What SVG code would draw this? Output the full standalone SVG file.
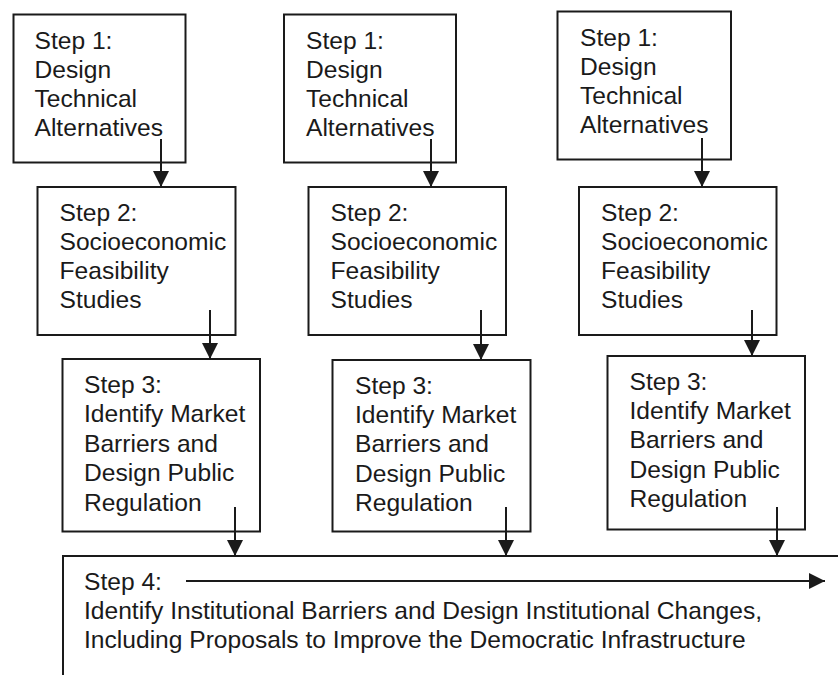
<svg xmlns="http://www.w3.org/2000/svg" width="838" height="675" viewBox="0 0 838 675">
  <style>
    .box { fill: #ffffff; stroke: #1a1a1a; stroke-width: 2; }
    .lbl { font-family: "Liberation Sans", Arial, Helvetica, sans-serif; font-size: 24.6px; fill: #1a1a1a; }
    .conn { stroke: #1a1a1a; stroke-width: 2; fill: none; marker-end: url(#head); }
  </style>
  <defs>
    <marker id="head" viewBox="0 0 16 16" refX="16" refY="8" markerWidth="16" markerHeight="16" markerUnits="userSpaceOnUse" orient="auto">
      <path d="M0,0 L16,8 L0,16 Z" fill="#1a1a1a"/>
    </marker>
  </defs>
  <rect width="838" height="675" fill="#ffffff"/>

  <!-- Column 1 -->
  <g id="c1-step1">
    <rect class="box" x="13.5" y="14.5" width="172" height="148"/>
    <text class="lbl" x="34.5" y="49"><tspan x="34.5">Step 1:</tspan><tspan x="34.5" dy="29">Design</tspan><tspan x="34.5" dy="29">Technical</tspan><tspan x="34.5" dy="29">Alternatives</tspan></text>
  </g>
  <g id="c1-step2">
    <rect class="box" x="37.5" y="187" width="198" height="148"/>
    <text class="lbl" x="59.5" y="221"><tspan x="59.5">Step 2:</tspan><tspan x="59.5" dy="29">Socioeconomic</tspan><tspan x="59.5" dy="29">Feasibility</tspan><tspan x="59.5" dy="29">Studies</tspan></text>
  </g>
  <g id="c1-step3">
    <rect class="box" x="62.5" y="359" width="197.5" height="172.5"/>
    <text class="lbl" x="84" y="393"><tspan x="84">Step 3:</tspan><tspan x="84" dy="29.4">Identify Market</tspan><tspan x="84" dy="29.4">Barriers and</tspan><tspan x="84" dy="29.4">Design Public</tspan><tspan x="84" dy="29.4">Regulation</tspan></text>
  </g>

  <!-- Column 2 -->
  <g id="c2-step1">
    <rect class="box" x="284" y="14.5" width="172" height="148"/>
    <text class="lbl" x="306" y="49"><tspan x="306">Step 1:</tspan><tspan x="306" dy="29">Design</tspan><tspan x="306" dy="29">Technical</tspan><tspan x="306" dy="29">Alternatives</tspan></text>
  </g>
  <g id="c2-step2">
    <rect class="box" x="308.5" y="187" width="197.5" height="148"/>
    <text class="lbl" x="330.5" y="221"><tspan x="330.5">Step 2:</tspan><tspan x="330.5" dy="29">Socioeconomic</tspan><tspan x="330.5" dy="29">Feasibility</tspan><tspan x="330.5" dy="29">Studies</tspan></text>
  </g>
  <g id="c2-step3">
    <rect class="box" x="332.5" y="360" width="198" height="171.5"/>
    <text class="lbl" x="355" y="393.5"><tspan x="355">Step 3:</tspan><tspan x="355" dy="29.4">Identify Market</tspan><tspan x="355" dy="29.4">Barriers and</tspan><tspan x="355" dy="29.4">Design Public</tspan><tspan x="355" dy="29.4">Regulation</tspan></text>
  </g>

  <!-- Column 3 -->
  <g id="c3-step1">
    <rect class="box" x="557.5" y="11.5" width="173.5" height="148"/>
    <text class="lbl" x="580" y="46"><tspan x="580">Step 1:</tspan><tspan x="580" dy="29">Design</tspan><tspan x="580" dy="29">Technical</tspan><tspan x="580" dy="29">Alternatives</tspan></text>
  </g>
  <g id="c3-step2">
    <rect class="box" x="579" y="187" width="197.5" height="148"/>
    <text class="lbl" x="601" y="221"><tspan x="601">Step 2:</tspan><tspan x="601" dy="29">Socioeconomic</tspan><tspan x="601" dy="29">Feasibility</tspan><tspan x="601" dy="29">Studies</tspan></text>
  </g>
  <g id="c3-step3">
    <rect class="box" x="607.5" y="356" width="197.5" height="173.5"/>
    <text class="lbl" x="629.5" y="389.5"><tspan x="629.5">Step 3:</tspan><tspan x="629.5" dy="29.4">Identify Market</tspan><tspan x="629.5" dy="29.4">Barriers and</tspan><tspan x="629.5" dy="29.4">Design Public</tspan><tspan x="629.5" dy="29.4">Regulation</tspan></text>
  </g>

  <!-- Shared step 4 panel, open to the right and bottom -->
  <g id="step4">
    <path d="M63,675 V556 H838" fill="none" stroke="#1a1a1a" stroke-width="2"/>
    <text class="lbl" x="84" y="589.5"><tspan x="84">Step 4:</tspan><tspan x="84" dy="29.2">Identify Institutional Barriers and Design Institutional Changes,</tspan><tspan x="84" dy="29.2">Including Proposals to Improve the Democratic Infrastructure</tspan></text>
  </g>

  <!-- Connectors -->
  <g id="connectors">
    <line class="conn" x1="161" y1="139" x2="161" y2="187"/>
    <line class="conn" x1="210" y1="310" x2="210" y2="359"/>
    <line class="conn" x1="235" y1="507" x2="235" y2="556"/>

    <line class="conn" x1="431" y1="139" x2="431" y2="187"/>
    <line class="conn" x1="481" y1="310" x2="481" y2="360"/>
    <line class="conn" x1="506" y1="507" x2="506" y2="556"/>

    <line class="conn" x1="702" y1="138" x2="702" y2="187"/>
    <line class="conn" x1="752" y1="310" x2="752" y2="356"/>
    <line class="conn" x1="777" y1="507" x2="777" y2="556"/>

    <line class="conn" x1="186" y1="581" x2="825" y2="581"/>
  </g>
</svg>
